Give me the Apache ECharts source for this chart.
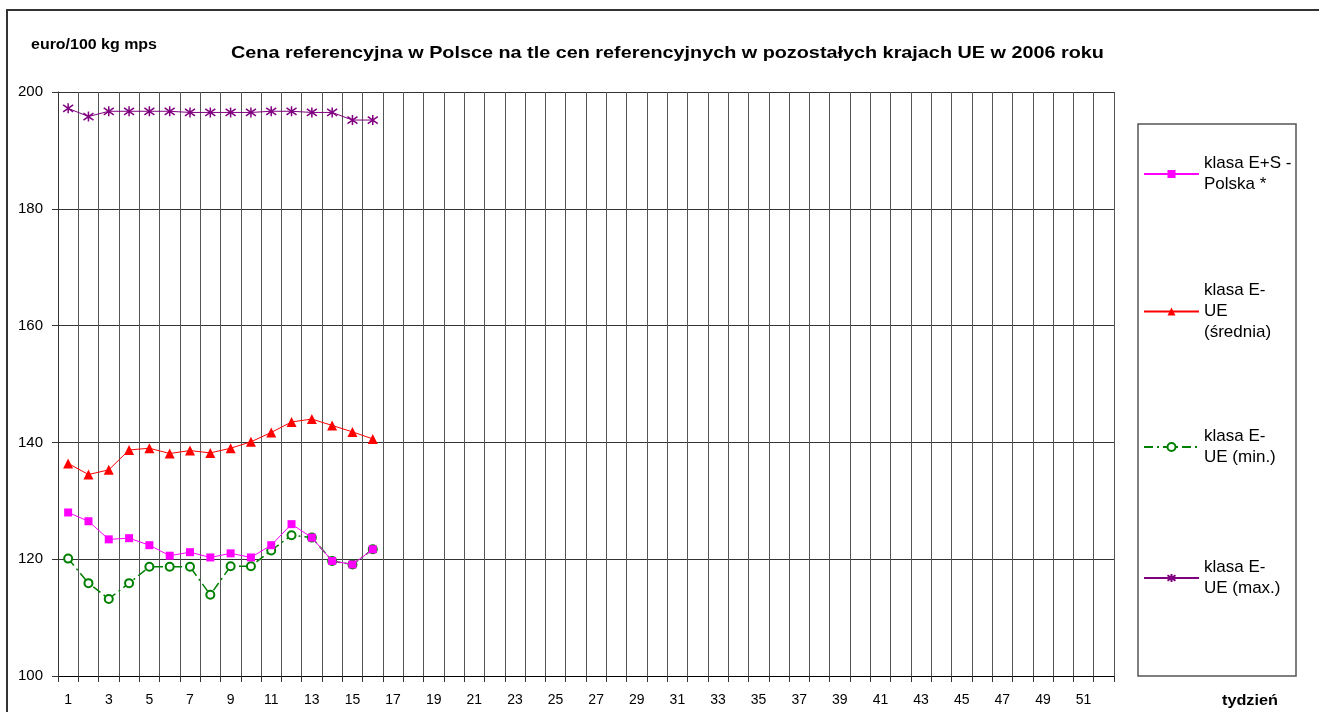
<!DOCTYPE html>
<html>
<head>
<meta charset="utf-8">
<script src="https://cdn.jsdelivr.net/npm/echarts@6/dist/echarts.min.js"></script>
<style>html,body{margin:0;padding:0;background:#fff}#c{width:1319px;height:712px}</style>
</head>
<body>
<div id="c"></div>
<script>
const weeks = ['1','2','3','4','5','6','7','8','9','10','11','12','13','14','15','16','17','18','19','20','21','22','23','24','25','26','27','28','29','30','31','32','33','34','35','36','37','38','39','40','41','42','43','44','45','46','47','48','49','50','51','52'];
const polska = [128.0,126.5,123.4,123.6,122.4,120.6,121.2,120.3,121.0,120.3,122.4,126.0,123.7,119.7,119.1,121.7];
const ueSrednia = [136.4,134.5,135.3,138.7,139.0,138.1,138.6,138.2,139.0,140.1,141.7,143.5,144.0,142.9,141.8,140.6];
const ueMin = [120.1,115.9,113.2,115.9,118.7,118.7,118.7,113.9,118.8,118.8,121.5,124.1,123.7,119.7,119.1,121.7];
const ueMax = [197.2,195.8,196.7,196.7,196.7,196.7,196.5,196.5,196.5,196.5,196.7,196.7,196.5,196.5,195.2,195.2];
const yTicks = {min:100, max:200, interval:20};
const names = ['klasa E+S -\nPolska *','klasa E-\nUE\n(średnia)','klasa E-\nUE (min.)','klasa E-\nUE (max.)'];
const titleText = 'Cena referencyjna w Polsce na tle cen referencyjnych w pozostałych krajach UE w 2006 roku';
const yName = 'euro/100 kg mps';
const xName = 'tydzień';

const FONT = 'Liberation Sans, Arial, sans-serif';
const LH = 21;
const asterisk = 'path://M5 0L5 10M0 1.5L10 8.5M10 1.5L0 8.5';

function legendFor(i, top){
  const n = names[i].split('\n').length;
  return {
    left: 1143, top: top, orient:'vertical', padding:0,
    itemWidth:55, itemHeight:10, itemGap:5, selectedMode:false,
    data:[{name:names[i], textStyle:{padding:[(n-1)*LH,0,0,0]}}],
    textStyle:{fontFamily:FONT, fontSize:17, color:'#000', lineHeight:LH}
  };
}
function label(text, x, y, size, sx){
  return {type:'text', x:x, y:y, scaleX:sx, silent:true, z:10,
    style:{text:text, fontFamily:FONT, fontSize:size, fontWeight:'bold', fill:'#000', verticalAlign:'middle', align:'left'}};
}

const chart = echarts.init(document.getElementById('c'));
chart.setOption({
  animation:false,
  backgroundColor:'#fff',
  legend:[legendFor(0,142.5), legendFor(1,259), legendFor(2,415.5), legendFor(3,546.5)],
  grid:{left:58, right:205, top:92, bottom:36, containLabel:false},
  xAxis:{
    type:'category', data:weeks, boundaryGap:true,
    axisLine:{lineStyle:{color:'#000', width:1}},
    axisTick:{show:true, interval:0, length:6, lineStyle:{color:'#333'}},
    axisLabel:{interval:1, fontFamily:FONT, fontSize:14, color:'#000', margin:17},
    splitLine:{show:true, interval:0, lineStyle:{color:'#555', width:1}}
  },
  yAxis:{
    type:'value', min:yTicks.min, max:yTicks.max, interval:yTicks.interval,
    axisLine:{show:true, lineStyle:{color:'#333'}},
    axisTick:{show:true, length:6, lineStyle:{color:'#333'}},
    axisLabel:{fontFamily:FONT, fontSize:15, color:'#000', margin:15},
    splitLine:{show:true, lineStyle:{color:'#333', width:1}}
  },
  graphic:[
    {type:'rect', shape:{x:7,y:10,width:1340,height:730}, style:{fill:'none', stroke:'#333', lineWidth:2}, silent:true},
    {type:'rect', shape:{x:1138,y:124,width:158,height:552}, style:{fill:'none', stroke:'#555', lineWidth:1.5}, silent:true},
    label(titleText, 231, 53, 17, 1.165),
    label(yName, 31, 45, 14, 1.14),
    label(xName, 1222, 701, 14, 1.16)
  ],
  series:[
    {name:names[0], type:'line', data:polska, symbol:'rect', symbolSize:8,
     lineStyle:{color:'#FF00FF', width:1}, itemStyle:{color:'#FF00FF'}, z:4},
    {name:names[1], type:'line', data:ueSrednia, symbol:'triangle', symbolSize:10,
     lineStyle:{color:'#FF0000', width:1}, itemStyle:{color:'#FF0000'}, z:3},
    {name:names[2], type:'line', data:ueMin, symbol:'emptyCircle', symbolSize:8,
     lineStyle:{color:'#008000', width:1.5, type:[9,4,2,4]}, itemStyle:{color:'#008000', borderColor:'#008000', borderWidth:1}, z:2},
    {name:names[3], type:'line', data:ueMax, symbol:asterisk, symbolSize:10,
     lineStyle:{color:'#800080', width:1}, itemStyle:{color:'#800080', borderColor:'#800080', borderWidth:1.5}, z:2}
  ]
});
</script>
</body>
</html>
